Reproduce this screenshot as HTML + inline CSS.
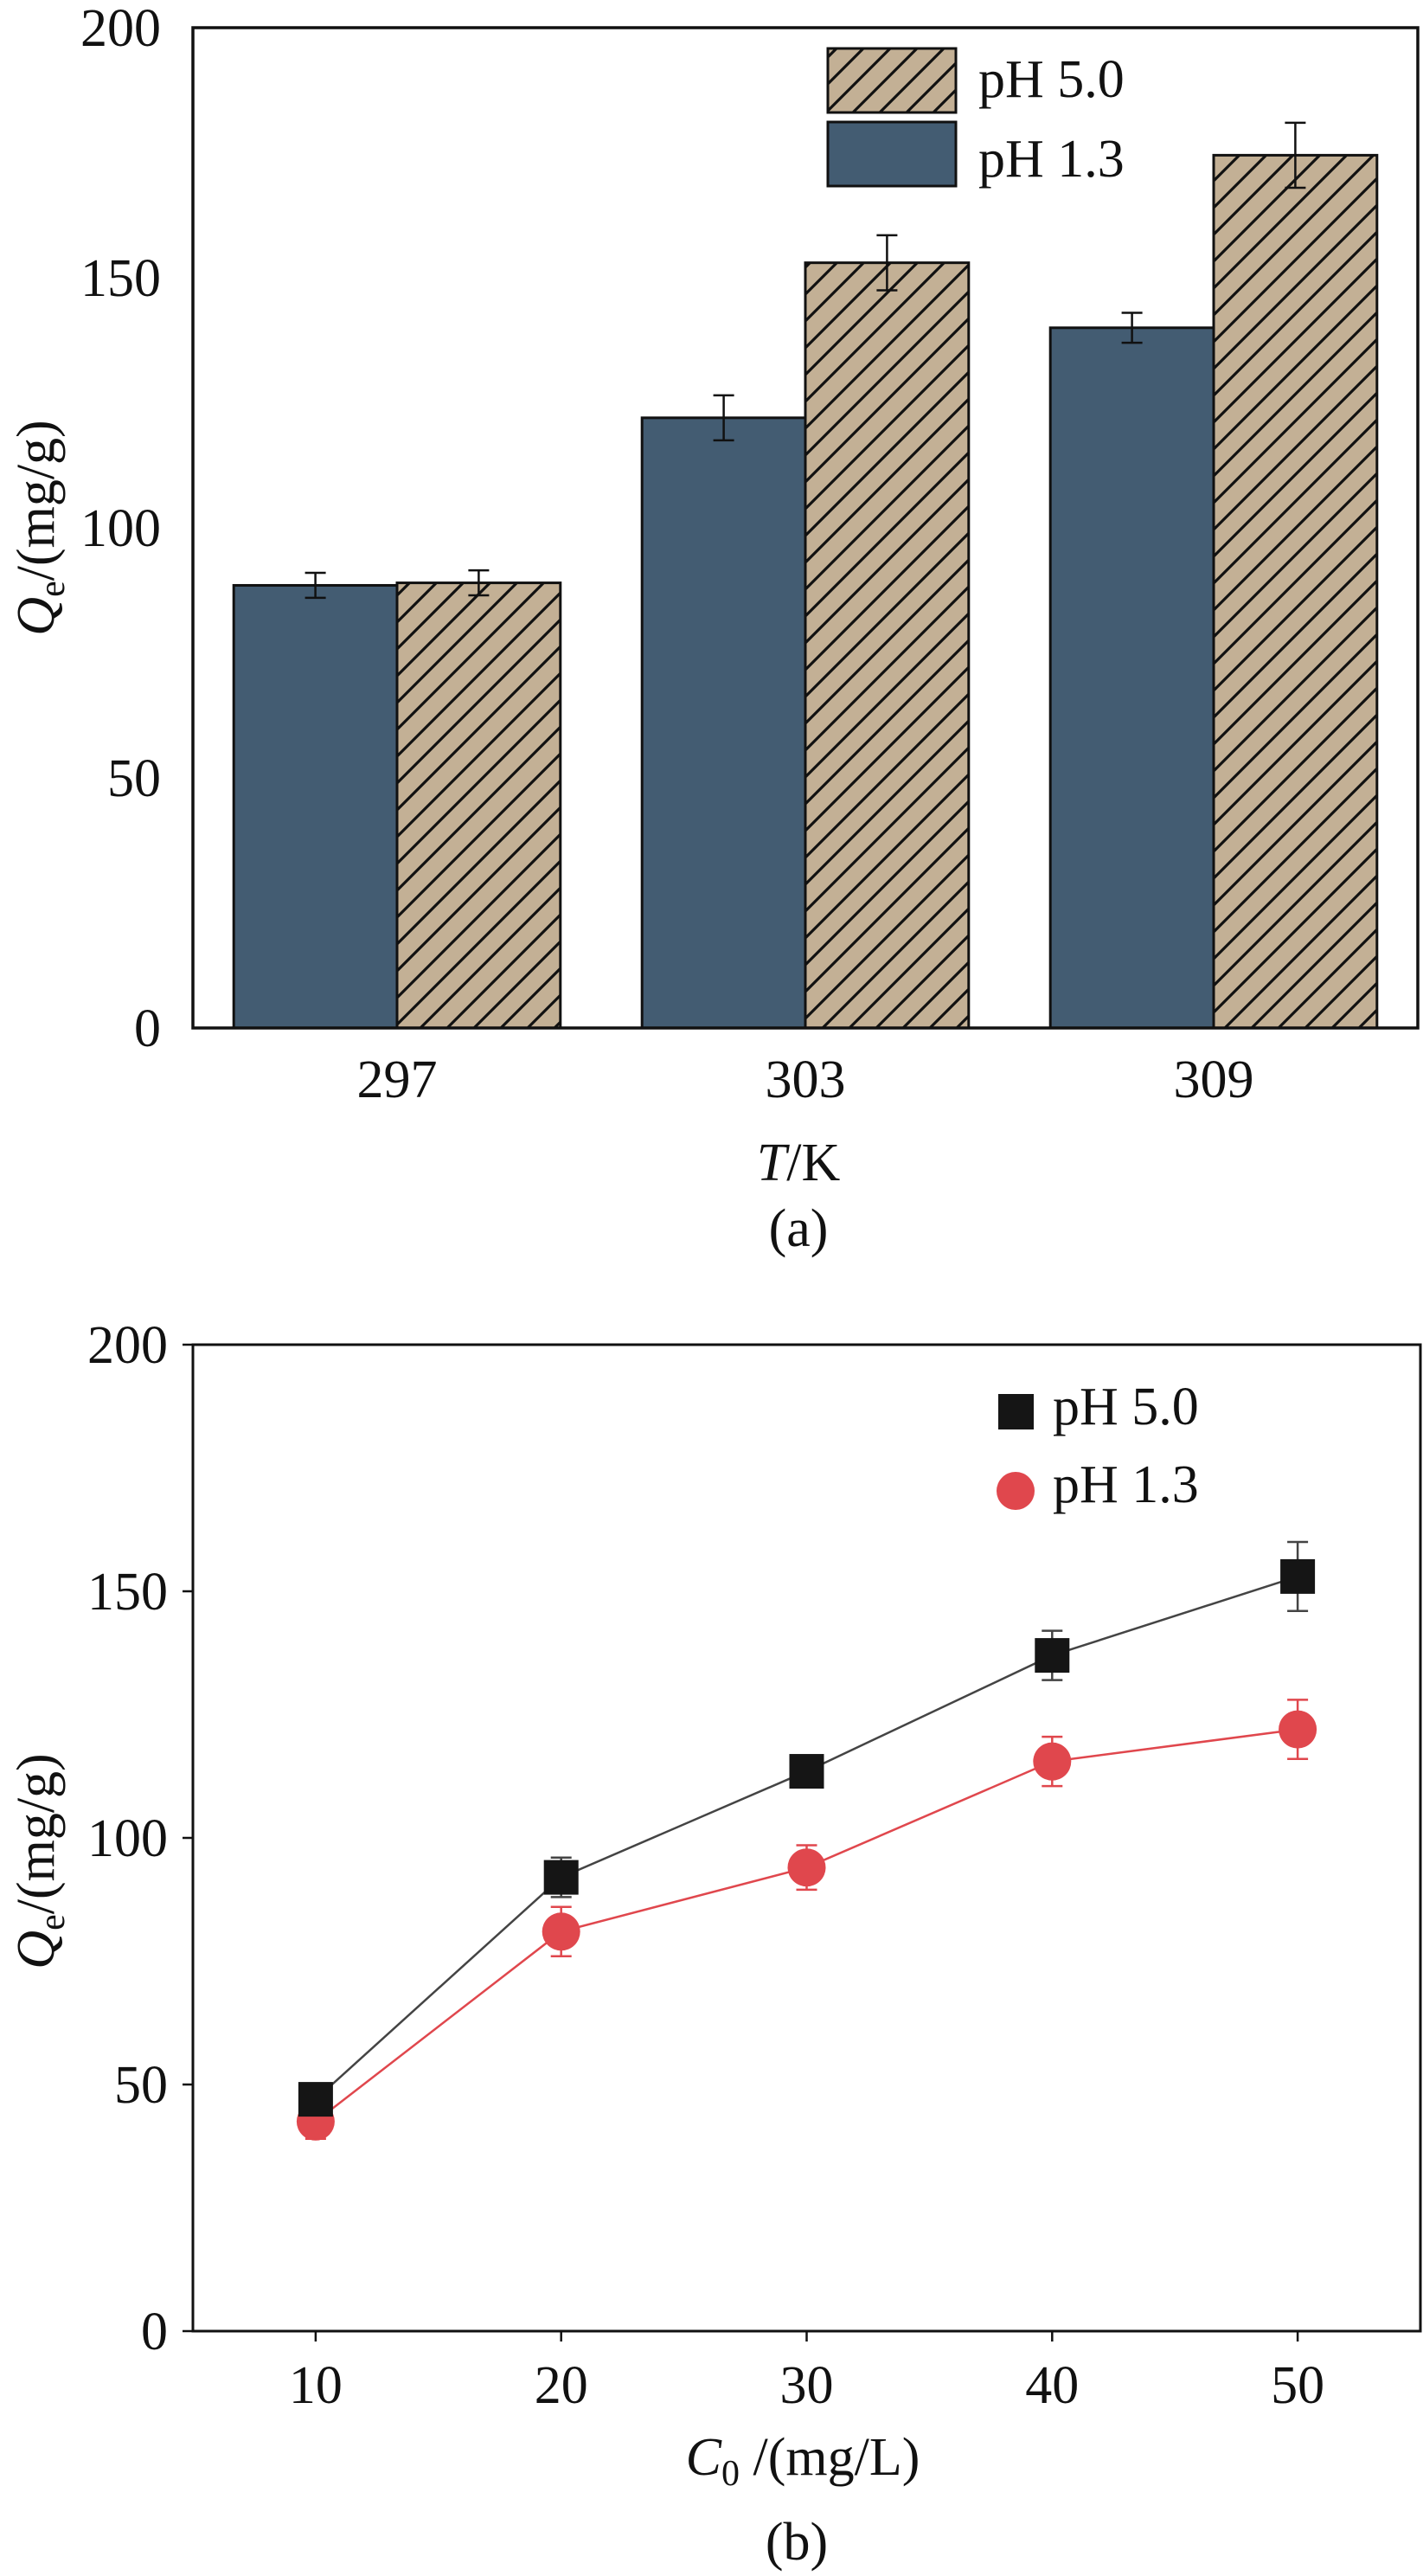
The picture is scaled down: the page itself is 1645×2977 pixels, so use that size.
<!DOCTYPE html>
<html><head><meta charset="utf-8"><style>
html,body{margin:0;padding:0;background:#fff;}
svg{display:block;font-family:"Liberation Serif",serif;}
</style></head><body>
<svg id="fig" width="1645" height="2977" viewBox="0 0 1645 2977" xmlns="http://www.w3.org/2000/svg">
<defs>
<pattern id="hatch" patternUnits="userSpaceOnUse" width="31" height="31" patternTransform="rotate(0)">
<rect width="31" height="31" fill="#c3b095"/>
<path d="M-8,39 L39,-8 M-39,39 L39,-39 M23,39 L39,23" stroke="#111" stroke-width="3.2"/>
</pattern>
</defs>
<g id="chartA"></g>
<g id="chartB"></g>
</svg>
<script>
// ---- Chart (a) data ----
const catsA = ["297", "303", "309"];
const ph13A = [88.5, 122, 140];
const ph13AErr = [2.5, 4.5, 3];
const ph50A = [89, 153, 174.5];
const ph50AErr = [2.5, 5.5, 6.5];
const yTicksA = [0, 50, 100, 150, 200];

// ---- Chart (b) data ----
const concB = [10, 20, 30, 40, 50];
const ph50B = [47, 92, 113.5, 137, 153];
const ph50BErr = [3, 4, 2, 5, 7];
const ph13B = [42.5, 81, 94, 115.5, 122];
const ph13BErr = [3.5, 5, 4.5, 5, 6];
const xTicksB = [10, 20, 30, 40, 50];
const yTicksB = [0, 50, 100, 150, 200];

const NS = "http://www.w3.org/2000/svg";
function mk(parent, tag, attrs, text){
  const e = document.createElementNS(NS, tag);
  for (const k in attrs) e.setAttribute(k, attrs[k]);
  if (text !== undefined) e.textContent = text;
  parent.appendChild(e);
  return e;
}

// ================= Chart A =================
(function(){
  const g = document.getElementById('chartA');
  const L=223, R=1639, T=32, B=1188;
  const y = v => B - (v/200)*(B-T);
  const band = (R-L)/catsA.length;
  const cx = i => L + band*(i+0.5);
  const bw = band*0.4;

  yTicksA.forEach(t=>{
    const el = mk(g,'text',{x:186,y:y(t)+21,'text-anchor':'end','font-size':62,fill:'#111'},String(t));
    
    
  });
  catsA.forEach((c,i)=>{
    const el = mk(g,'text',{x:cx(i),y:1268,'text-anchor':'middle','font-size':62,fill:'#111'},c);
    
    
  });

  function drawBars(vals, errs, offset, fill, name){
    vals.forEach((v,i)=>{
      const x0 = cx(i) + offset*bw - (offset<0?0:0);
      const r = mk(g,'rect',{x:offset<0? cx(i)-bw : cx(i), y:y(v), width:bw, height:B-y(v), fill:fill, stroke:'#111','stroke-width':3});
      
      
      const ex = offset<0? cx(i)-bw/2 : cx(i)+bw/2;
      const e = mk(g,'path',{d:`M${ex},${y(v+errs[i])} V${y(v-errs[i])} M${ex-12},${y(v+errs[i])} H${ex+12} M${ex-12},${y(v-errs[i])} H${ex+12}`,stroke:'#111','stroke-width':2.5,fill:'none'});
      
      
    });
  }
  drawBars(ph13A, ph13AErr, -1, '#435c72', 'bar-ph13');
  drawBars(ph50A, ph50AErr, 1, 'url(#hatch)', 'bar-ph50');

  const frame = mk(g,'rect',{x:L,y:T,width:R-L,height:B-T,fill:'none',stroke:'#111','stroke-width':3.5});
  
  

  const yl = mk(g,'text',{transform:'translate(62,610) rotate(-90)','text-anchor':'middle','font-size':62,fill:'#111'});
  yl.innerHTML = '<tspan font-style="italic">Q</tspan><tspan font-size="42" dy="12">e</tspan><tspan dy="-12">/(mg/g)</tspan>';
  
  

  const xl = mk(g,'text',{x:923,y:1364,'text-anchor':'middle','font-size':62,fill:'#111'});
  xl.innerHTML = '<tspan font-style="italic">T</tspan>/K';
  
  

  const cap = mk(g,'text',{x:923,y:1440,'text-anchor':'middle','font-size':62,fill:'#111'},'(a)');
  
  

  const lg1 = mk(g,'rect',{x:957,y:56,width:148,height:74,fill:'url(#hatch)',stroke:'#111','stroke-width':3});
  
  
  const lt1 = mk(g,'text',{x:1131,y:112,'font-size':62,fill:'#111'},'pH 5.0');
  
  
  const lg2 = mk(g,'rect',{x:957,y:141,width:148,height:74,fill:'#435c72',stroke:'#111','stroke-width':3});
  
  
  const lt2 = mk(g,'text',{x:1131,y:204,'font-size':62,fill:'#111'},'pH 1.3');
  
  
})();

// ================= Chart B =================
(function(){
  const g = document.getElementById('chartB');
  const L=223, R=1642, T=1554, B=2694;
  const x = v => L + (v-5)/50*(R-L);
  const y = v => B - (v/200)*(B-T);

  const frame = mk(g,'path',{d:`M${L},${T} H${R} V${B} H${L} Z`,fill:'none',stroke:'#111','stroke-width':3});
  
  

  yTicksB.forEach(t=>{
    const tk = mk(g,'line',{x1:L-12,x2:L,y1:y(t),y2:y(t),stroke:'#111','stroke-width':2.5});
    
    
    const el = mk(g,'text',{x:194,y:y(t)+21,'text-anchor':'end','font-size':62,fill:'#111'},String(t));
    
    
  });
  xTicksB.forEach(t=>{
    const tk = mk(g,'line',{x1:x(t),x2:x(t),y1:B,y2:B+12,stroke:'#111','stroke-width':2.5});
    
    
    const el = mk(g,'text',{x:x(t),y:2777,'text-anchor':'middle','font-size':62,fill:'#111'},String(t));
    
    
  });

  function series(vals, errs, color, lineColor, shape, name){
    const d = vals.map((v,i)=>(i?'L':'M')+x(concB[i])+','+y(v)).join(' ');
    const ln = mk(g,'path',{d:d,fill:'none',stroke:lineColor,'stroke-width':2.5});
    
    
    vals.forEach((v,i)=>{
      const cx=x(concB[i]), hi=y(v+errs[i]), lo=y(v-errs[i]);
      const e = mk(g,'path',{d:`M${cx},${hi} V${lo} M${cx-12},${hi} H${cx+12} M${cx-12},${lo} H${cx+12}`,stroke:lineColor,'stroke-width':2.5,fill:'none'});
      
      
      let m;
      if (shape==='sq') m = mk(g,'rect',{x:cx-20,y:y(v)-20,width:40,height:40,fill:color});
      else m = mk(g,'circle',{cx:cx,cy:y(v),r:22,fill:color});
      
      
    });
  }
  series(ph13B, ph13BErr, '#e0474d', '#e0474d', 'c', 'ph13');
  series(ph50B, ph50BErr, '#151515', '#444', 'sq', 'ph50');

  const yl = mk(g,'text',{transform:'translate(62,2151) rotate(-90)','text-anchor':'middle','font-size':62,fill:'#111'});
  yl.innerHTML = '<tspan font-style="italic">Q</tspan><tspan font-size="42" dy="12">e</tspan><tspan dy="-12">/(mg/g)</tspan>';
  
  

  const xl = mk(g,'text',{x:928,y:2860,'text-anchor':'middle','font-size':62,fill:'#111'});
  xl.innerHTML = '<tspan font-style="italic">C</tspan><tspan font-size="42" dy="12">0</tspan><tspan dy="-12"> /(mg/L)</tspan>';
  
  

  const cap = mk(g,'text',{x:921,y:2958,'text-anchor':'middle','font-size':62,fill:'#111'},'(b)');
  
  

  const s1 = mk(g,'rect',{x:1154,y:1611,width:41,height:41,fill:'#151515'});
  
  
  const t1 = mk(g,'text',{x:1217,y:1646,'font-size':62,fill:'#111'},'pH 5.0');
  
  
  const s2 = mk(g,'circle',{cx:1174,cy:1723,r:22,fill:'#e0474d'});
  
  
  const t2 = mk(g,'text',{x:1217,y:1736,'font-size':62,fill:'#111'},'pH 1.3');
  
  
})();
</script>
</body></html>
